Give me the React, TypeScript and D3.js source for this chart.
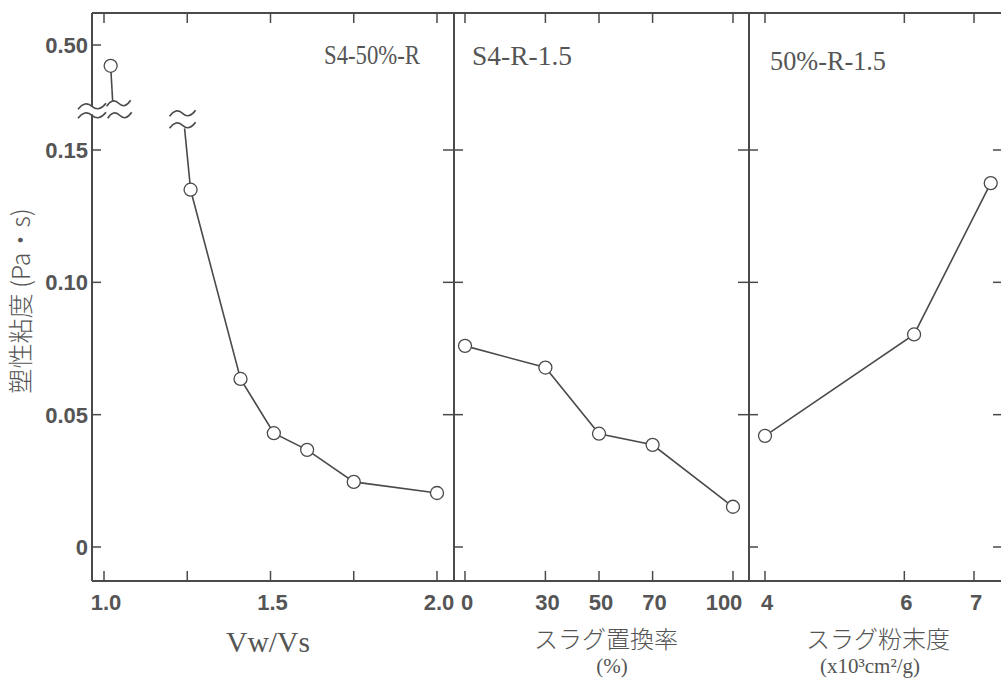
import React from 'react';
import * as d3 from 'd3';

// ---- data ----
const vwvsX = [1.26, 1.41, 1.51, 1.61, 1.75, 2.0];
const vwvsY = [0.135, 0.0635, 0.043, 0.0367, 0.0246, 0.0204];
const vwvsTopX = [1.02];
const vwvsTopY = [0.46];
const slagX = [0, 30, 50, 70, 100];
const slagY = [0.076, 0.0678, 0.0428, 0.0386, 0.0152];
const fineX = [4.0, 6.14, 7.24];
const fineY = [0.042, 0.0803, 0.1375];

const yTicksLow = [0, 0.05, 0.1, 0.15];
const yTickLabelsLow = ['0', '0.05', '0.10', '0.15'];
const yTicksHigh = [0.5];
const yTickLabelsHigh = ['0.50'];
const x1Ticks = [1.0, 1.25, 1.5, 1.75, 2.0];
const x1Labels = ['1.0', '', '1.5', '', '2.0'];
const x2Ticks = [0, 30, 50, 70, 100];
const x2Labels = ['0', '30', '50', '70', '100'];
const x3Ticks = [4, 6, 7];
const x3Labels = ['4', '6', '7'];

const panelTitles = ['S4-50%-R', 'S4-R-1.5', '50%-R-1.5'];

// ---- layout ----
const W = 1001, H = 681;
const top = 13, bottom = 581;
const bx = [92, 454, 749, 1004];

const yLow = d3.scaleLinear().domain([0, 0.15]).range([547, 150]);
const yHigh = d3.scaleLinear().domain([0.4, 0.5]).range([97, 45]);
const x1 = d3.scaleLinear().domain([1, 2]).range([104, 437]);
const x2 = d3.scaleLinear().domain([0, 100]).range([465, 733]);
const x3 = d3.scaleLinear().domain([4, 7]).range([765, 974]);

const ink = '#4a4a4a';
const txt = '#555';
const tickFont = '"Liberation Sans", Arial, sans-serif';
const serif = '"Liberation Serif", "DejaVu Serif", serif';
const cjk = '"Noto Sans CJK JP", sans-serif';

function wave(cx: number, cy: number, w: number, a: number) {
  const p = d3.path();
  p.moveTo(cx - w / 2, cy + a);
  p.quadraticCurveTo(cx - w / 4, cy - 2 * a, cx, cy);
  p.quadraticCurveTo(cx + w / 4, cy + 2 * a, cx + w / 2, cy - a);
  return p.toString();
}

const lineGen = (xs: d3.ScaleLinear<number, number>) =>
  d3.line<[number, number]>().x(d => xs(d[0])).y(d => yLow(d[1]));

export default function App() {
  const zip = (a: number[], b: number[]) => a.map((v, i) => [v, b[i]] as [number, number]);
  const s1 = zip(vwvsX, vwvsY);
  const s2 = zip(slagX, slagY);
  const s3 = zip(fineX, fineY);

  const breakAxisY = yLow(0.165);
  const topPt = [x1(vwvsTopX[0]), yHigh(vwvsTopY[0])];
  const firstPt = [x1(vwvsX[0]), yLow(vwvsY[0])];

  const circles = (pts: [number, number][], xs: d3.ScaleLinear<number, number>) =>
    pts.map((d, i) => (
      <circle key={i} cx={xs(d[0])} cy={yLow(d[1])} r={6.5} fill="#fff" stroke={ink} strokeWidth={1.3} />
    ));

  const xTicksEls = (ticks: number[], labels: string[], xs: d3.ScaleLinear<number, number>, k: string) =>
    ticks.map((t, i) => (
      <g key={k + i}>
        <line x1={xs(t)} x2={xs(t)} y1={bottom} y2={bottom - 10} stroke={ink} strokeWidth={1.5} />
        <line x1={xs(t)} x2={xs(t)} y1={top} y2={top + 10} stroke={ink} strokeWidth={1.5} />
        {labels[i] && (
          <text x={xs(t) + (labels[i] === '100' ? -9 : 2)} y={610} textAnchor="middle" fontFamily={tickFont}
            fontWeight="bold" fontSize={22} fill={txt}>{labels[i]}</text>
        )}
      </g>
    ));

  return (
    <svg width={W} height={H} style={{ position: 'absolute', left: 0, top: 0, background: '#fff' }}>
      {/* frame */}
      <line x1={bx[0]} x2={W} y1={top} y2={top} stroke={ink} strokeWidth={2} />
      <line x1={bx[0]} x2={W} y1={bottom} y2={bottom} stroke={ink} strokeWidth={2} />
      {bx.map((x, i) => (
        <line key={i} x1={x} x2={x} y1={top} y2={bottom} stroke={ink} strokeWidth={2} />
      ))}

      {/* left axis ticks & labels */}
      {yTicksLow.map((t, i) => (
        <g key={'yl' + i}>
          <line x1={bx[0]} x2={bx[0] + 9} y1={yLow(t)} y2={yLow(t)} stroke={ink} strokeWidth={1.5} />
          <text x={bx[0] - 4} y={yLow(t) + 8} textAnchor="end" fontFamily={tickFont} fontWeight="bold"
            fontSize={22} fill={txt}>{yTickLabelsLow[i]}</text>
        </g>
      ))}
      {yTicksHigh.map((t, i) => (
        <g key={'yh' + i}>
          <line x1={bx[0]} x2={bx[0] + 9} y1={yHigh(t)} y2={yHigh(t)} stroke={ink} strokeWidth={1.5} />
          <text x={bx[0] - 4} y={yHigh(t) + 8} textAnchor="end" fontFamily={tickFont} fontWeight="bold"
            fontSize={22} fill={txt}>{yTickLabelsHigh[i]}</text>
        </g>
      ))}
      {/* divider ticks */}
      {[bx[1], bx[2]].map((x, j) =>
        yTicksLow.map((t, i) => (
          <line key={'d' + j + i} x1={t === 0 ? x : x - 11} x2={x + 9} y1={yLow(t)} y2={yLow(t)} stroke={ink} strokeWidth={1.5} />
        ))
      )}
      {yTicksLow.map((t, i) => (
        <line key={'r' + i} x1={bx[3] - 11} x2={bx[3]} y1={yLow(t)} y2={yLow(t)} stroke={ink} strokeWidth={1.5} />
      ))}

      {/* axis break on y axis */}
      <rect x={bx[0] - 3} y={breakAxisY - 4} width={6} height={8} fill="#fff" />
      <path d={wave(bx[0], breakAxisY - 4, 28, 3)} fill="none" stroke={ink} strokeWidth={1.6} />
      <path d={wave(bx[0], breakAxisY + 5, 28, 3)} fill="none" stroke={ink} strokeWidth={1.6} />

      {/* x ticks */}
      {xTicksEls(x1Ticks, x1Labels, x1, 'a')}
      {xTicksEls(x2Ticks, x2Labels, x2, 'b')}
      {xTicksEls(x3Ticks, x3Labels, x3, 'c')}

      {/* panel 1 upper point with break */}
      <line x1={topPt[0]} y1={topPt[1]} x2={topPt[0] + 2} y2={breakAxisY - 9} stroke={ink} strokeWidth={1.6} />
      <path d={wave(topPt[0] + 8, breakAxisY - 7, 24, 3)} fill="none" stroke={ink} strokeWidth={1.6} />
      <path d={wave(topPt[0] + 9, breakAxisY + 5, 24, 3)} fill="none" stroke={ink} strokeWidth={1.6} />
      <circle cx={topPt[0]} cy={topPt[1]} r={6.5} fill="#fff" stroke={ink} strokeWidth={1.3} />

      {/* panel 1 lower series break */}
      <path d={wave(firstPt[0] - 8, breakAxisY + 3, 26, 3)} fill="none" stroke={ink} strokeWidth={1.6} />
      <path d={wave(firstPt[0] - 8, breakAxisY + 15, 26, 3)} fill="none" stroke={ink} strokeWidth={1.6} />
      <line x1={firstPt[0] - 6} y1={breakAxisY + 18} x2={firstPt[0]} y2={firstPt[1]} stroke={ink} strokeWidth={1.6} />

      {/* series */}
      <path d={lineGen(x1)(s1) || ''} fill="none" stroke={ink} strokeWidth={1.6} />
      <path d={lineGen(x2)(s2) || ''} fill="none" stroke={ink} strokeWidth={1.6} />
      <path d={lineGen(x3)(s3) || ''} fill="none" stroke={ink} strokeWidth={1.6} />
      {circles(s1, x1)}
      {circles(s2, x2)}
      {circles(s3, x3)}

      {/* panel titles */}
      <text x={324} y={64} fontFamily={serif} fontSize={27} fill={txt} textLength={96} lengthAdjust="spacingAndGlyphs">{panelTitles[0]}</text>
      <text x={472} y={65} fontFamily={serif} fontSize={27} fill={txt} textLength={100} lengthAdjust="spacingAndGlyphs">{panelTitles[1]}</text>
      <text x={770} y={70} fontFamily={serif} fontSize={27} fill={txt} textLength={116} lengthAdjust="spacingAndGlyphs">{panelTitles[2]}</text>

      {/* y axis title */}
      <text transform="translate(30,301) rotate(-90)" textAnchor="middle" fontFamily={cjk} fontWeight={300}
        fontSize={25} fill={txt}>塑性粘度 (Pa・s)</text>

      {/* x axis titles */}
      <text x={268} y={652} textAnchor="middle" fontFamily={serif} fontSize={30} fill={txt} textLength={84} lengthAdjust="spacingAndGlyphs">Vw/Vs</text>
      <text x={606} y={648} textAnchor="middle" fontFamily={cjk} fontWeight={300} fontSize={24} fill={txt}>スラグ置換率</text>
      <text x={612} y={673} textAnchor="middle" fontFamily={serif} fontSize={21} fill={txt}>(%)</text>
      <text x={878} y={648} textAnchor="middle" fontFamily={cjk} fontWeight={300} fontSize={24} fill={txt}>スラグ粉末度</text>
      <text x={870} y={673} textAnchor="middle" fontFamily={serif} fontSize={21} fill={txt}>(x10³cm²/g)</text>
    </svg>
  );
}
